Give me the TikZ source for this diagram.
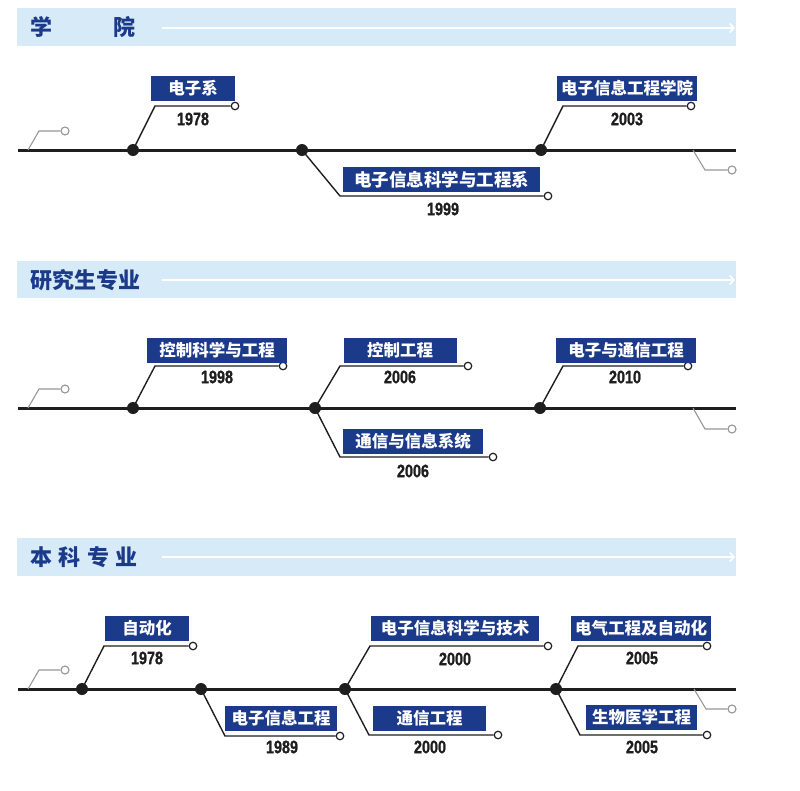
\documentclass[tikz,border=0pt]{standalone}
\usepackage{fontspec}
\usetikzlibrary{arrows.meta}
\newfontfamily\cjk{Noto Sans CJK SC}
\newfontfamily\yearfont{Liberation Sans Bold}[FakeStretch=0.8,FakeBold=1.2]
\definecolor{navy}{RGB}{27,58,138}
\definecolor{barblue}{RGB}{214,234,248}
\definecolor{stubgray}{RGB}{150,150,150}
\definecolor{ink}{RGB}{30,30,30}
\tikzset{
  hdrbar/.style={fill=barblue, draw=none},
  hdrtitle/.style={anchor=west, text=navy, font=\cjk\bfseries\fontsize{22}{26}\selectfont, inner sep=0pt},
  hdrarrow/.style={draw=white, line width=1.8pt, -{Straight Barb[length=4pt,width=9pt,line width=1.8pt]}},
  timeline/.style={draw=ink, line width=3pt},
  conn/.style={draw=ink, line width=1.4pt},
  dotnode/.style={circle, fill=ink, minimum size=12pt, inner sep=0pt},
  endcirc/.style={circle, draw=ink, fill=white, line width=1.2pt, minimum size=7.5pt, inner sep=0pt},
  stub/.style={draw=stubgray, line width=1.1pt},
  stubcirc/.style={circle, draw=stubgray, fill=white, line width=1.1pt, minimum size=8pt, inner sep=0pt},
  labelbox/.style={fill=navy, text=white, font=\cjk\bfseries\fontsize{16.5}{18}\selectfont, minimum height=25pt, inner sep=0pt},
  yearlbl/.style={font=\yearfont\fontsize{18}{20}\selectfont, text=ink, inner sep=0pt}
}
% #1 id, #2 dot, #3 bend, #4 circle, #5 box centre, #6 box width, #7 label, #8 year pos, #9 year
\newcommand\evt[9]{%
  \coordinate (#1b) at #3;
  \node[endcirc] (#1c) at #4 {};
  \draw[conn] (#2.center) -- (#1b) -- (#1c);
  \node[labelbox, minimum width=#6pt] (#1box) at #5 {#7};
  \node[yearlbl] (#1yr) at #8 {#9};
}
% #1 id, #2 start, #3 bend, #4 circle
\newcommand\stubline[4]{%
  \coordinate (#1s) at #2;
  \coordinate (#1b) at #3;
  \node[stubcirc] (#1c) at #4 {};
  \draw[stub] (#1s) -- (#1b) -- (#1c);
}
\begin{document}
\begin{tikzpicture}[x=1pt,y=-1pt]
\useasboundingbox (0,0) rectangle (800,790);

% ---------- headers ----------
\fill[hdrbar] (17,8) rectangle (736,46);
\node[hdrtitle] (h1) at (30,27) {学\hspace{61pt}院};
\coordinate (h1a) at (162,28);
\coordinate (h1b) at (735,28);
\draw[hdrarrow] (h1a) -- (h1b);

\fill[hdrbar] (17,261) rectangle (736,298);
\node[hdrtitle] (h2) at (30,280) {研究生专业};
\coordinate (h2a) at (162,280);
\coordinate (h2b) at (735,280);
\draw[hdrarrow] (h2a) -- (h2b);

\fill[hdrbar] (17,538) rectangle (736,576);
\node[hdrtitle] (h3) at (30,557) {本\hspace{6.5pt}科\hspace{6.5pt}专\hspace{6.5pt}业};
\coordinate (h3a) at (162,557);
\coordinate (h3b) at (735,557);
\draw[hdrarrow] (h3a) -- (h3b);

% ---------- timeline 1 ----------
\coordinate (t1s) at (18,150);
\coordinate (t1e) at (736,150);
\draw[timeline] (t1s) -- (t1e);
\stubline{s1l}{(28,150)}{(39,131)}{(65,131)}
\stubline{s1r}{(693,150)}{(705,170)}{(732,170)}
\node[dotnode] (a1) at (133,150) {};
\node[dotnode] (a2) at (302,150) {};
\node[dotnode] (a3) at (541,150) {};
\evt{e1}{a1}{(155,106)}{(235,106)}{(193,88)}{84}{电子系}{(193,119)}{1978}
\evt{e2}{a2}{(340,196)}{(548,196)}{(441.5,179.5)}{197}{{\fontsize{17.5}{19}\selectfont 电子信息科学与工程系}}{(443,209)}{1999}
\evt{e3}{a3}{(563,106)}{(691,106)}{(627,88)}{140}{电子信息工程学院}{(627,119)}{2003}

% ---------- timeline 2 ----------
\coordinate (t2s) at (18,408);
\coordinate (t2e) at (736,408);
\draw[timeline] (t2s) -- (t2e);
\stubline{s2l}{(28,408)}{(39,389)}{(65,389)}
\stubline{s2r}{(693,408)}{(705,429)}{(732,429)}
\node[dotnode] (b1) at (133,408) {};
\node[dotnode] (b2) at (315,408) {};
\node[dotnode] (b3) at (540,408) {};
\evt{f1}{b1}{(155,366)}{(283,366)}{(217,350)}{140}{控制科学与工程}{(217,377)}{1998}
\evt{f2}{b2}{(340,366)}{(468,366)}{(400,350)}{113}{控制工程}{(400,377)}{2006}
\evt{f3}{b2}{(340,457)}{(493,457)}{(413,441)}{140}{通信与信息系统}{(413,471)}{2006}
\evt{f4}{b3}{(563,366)}{(688,366)}{(626,350)}{140}{电子与通信工程}{(625,377)}{2010}

% ---------- timeline 3 ----------
\coordinate (t3s) at (18,689);
\coordinate (t3e) at (736,689);
\draw[timeline] (t3s) -- (t3e);
\stubline{s3l}{(28,689)}{(39,670)}{(65,670)}
\stubline{s3r}{(694,689)}{(706,709)}{(732,709)}
\node[dotnode] (c1) at (82,689) {};
\node[dotnode] (c2) at (201,689) {};
\node[dotnode] (c3) at (345,689) {};
\node[dotnode] (c4) at (556,689) {};
\evt{g1}{c1}{(104,646)}{(193,646)}{(147,628.5)}{84}{自动化}{(147,658)}{1978}
\evt{g2}{c2}{(225,736)}{(340,736)}{(281,718)}{112}{电子信息工程}{(282,747)}{1989}
\evt{g3}{c3}{(370,646)}{(548,646)}{(455,628.5)}{168}{电子信息科学与技术}{(455,659)}{2000}
\evt{g4}{c3}{(369,735)}{(498,735)}{(429.5,718)}{113}{通信工程}{(430,747)}{2000}
\evt{g5}{c4}{(578,646)}{(707,646)}{(641,628.5)}{140}{电气工程及自动化}{(642,658)}{2005}
\evt{g6}{c4}{(580,735)}{(707,735)}{(641.5,717.5)}{111}{生物医学工程}{(642,747)}{2005}
\end{tikzpicture}
\end{document}
